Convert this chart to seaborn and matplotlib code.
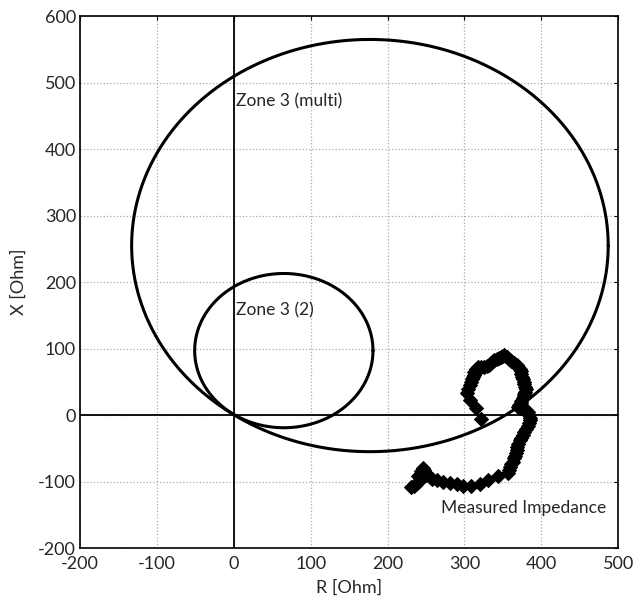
import numpy as np
import pandas as pd
import matplotlib
matplotlib.use('Agg')
import matplotlib.pyplot as plt
import seaborn as sns

# --- Data ---
# relay characteristic circles (mho): centre R, centre X, radius
zone_names = ['Zone 3 (multi)', 'Zone 3 (2)']
zone_center_r = [177, 65]
zone_center_x = [255, 97]
zone_radius = [310, 116]

# measured impedance trajectory
meas_r = [231, 234, 237, 240, 242, 240, 243, 246, 248, 246, 244, 250, 255,
          258, 264, 272, 281, 290, 298, 308, 320, 331, 344, 356,
          358, 359, 361, 363, 365, 366, 367, 368, 369, 370, 372, 374, 376, 378,
          380, 383, 384, 385, 385, 384, 383, 380, 376, 373, 370, 371, 373, 374,
          376, 377, 378, 379, 380, 379, 378, 377, 376, 375, 374, 373, 372, 370,
          368, 365, 361, 358, 355, 352, 350, 348, 345, 342, 339, 337, 335, 332,
          329, 326, 322, 318, 315, 313, 312, 311, 310, 309, 307, 305, 303,
          307, 315, 322]
meas_x = [-108, -106, -104, -101, -97, -91, -88, -86, -82, -80, -84, -90, -93,
          -96, -98, -100, -102, -104, -106, -107, -103, -98, -92, -87,
          -83, -78, -74, -70, -65, -61, -57, -53, -48, -43, -38, -34, -30, -25,
          -21, -16, -12, -8, -4, 0, 4, 7, 10, 11, 12, 15, 18, 21,
          25, 28, 31, 35, 39, 43, 47, 50, 54, 58, 62, 66, 70, 73,
          76, 79, 82, 85, 88, 90, 89, 88, 86, 84, 83, 81, 78, 76,
          74, 73, 73, 72, 69, 65, 61, 58, 54, 50, 45, 40, 34,
          23, 11, -6]

# --- Build circle outlines from centre/radius ---
theta = np.linspace(0, 2 * np.pi, 400)
rows = []
for name, cr, cx, rad in zip(zone_names, zone_center_r, zone_center_x, zone_radius):
    rows.append(pd.DataFrame({'R': cr + rad * np.cos(theta),
                              'X': cx + rad * np.sin(theta),
                              'zone': name}))
circles = pd.concat(rows, ignore_index=True)
meas = pd.DataFrame({'R': meas_r, 'X': meas_x})

sns.set_style('white')
plt.rcParams['font.family'] = ['Lato', 'DejaVu Sans']
plt.rcParams['axes.unicode_minus'] = False

fig = plt.figure(figsize=(6.36, 5.99), dpi=100)
ax = fig.add_axes([0.126, 0.085, 0.846, 0.888])

for name in zone_names:
    sub = circles[circles['zone'] == name]
    sns.lineplot(data=sub, x='R', y='X', sort=False, estimator=None,
                 color='black', linewidth=2.2, ax=ax)

sns.scatterplot(data=meas, x='R', y='X', marker='D', s=50, color='black',
                edgecolor='black', linewidth=0.8, ax=ax, zorder=5)

ax.axhline(0, color='black', linewidth=1.3)
ax.axvline(0, color='black', linewidth=1.3)

ax.set_xlim(-200, 500)
ax.set_ylim(-200, 600)
ax.set_xticks(range(-200, 501, 100))
ax.set_yticks(range(-200, 601, 100))
ax.grid(True, linestyle=':', color='#aaaaaa', linewidth=0.9)
ax.tick_params(direction='in', top=True, right=True, labelsize=13, length=3,
               color='black')
ax.tick_params(axis='x', pad=6)
ax.tick_params(axis='y', pad=3)
for s in ax.spines.values():
    s.set_color('black')
    s.set_linewidth(1.2)

ax.set_xlabel('R [Ohm]', fontsize=13, labelpad=5)
ax.set_ylabel('X [Ohm]', fontsize=13, labelpad=8)

ax.text(3, 472, 'Zone 3 (multi)', fontsize=12.5, va='center')
ax.text(3, 158, 'Zone 3 (2)', fontsize=12.5, va='center')
ax.text(270, -140, 'Measured Impedance', fontsize=12.5, va='center')

fig.savefig('out.png', dpi=100)
